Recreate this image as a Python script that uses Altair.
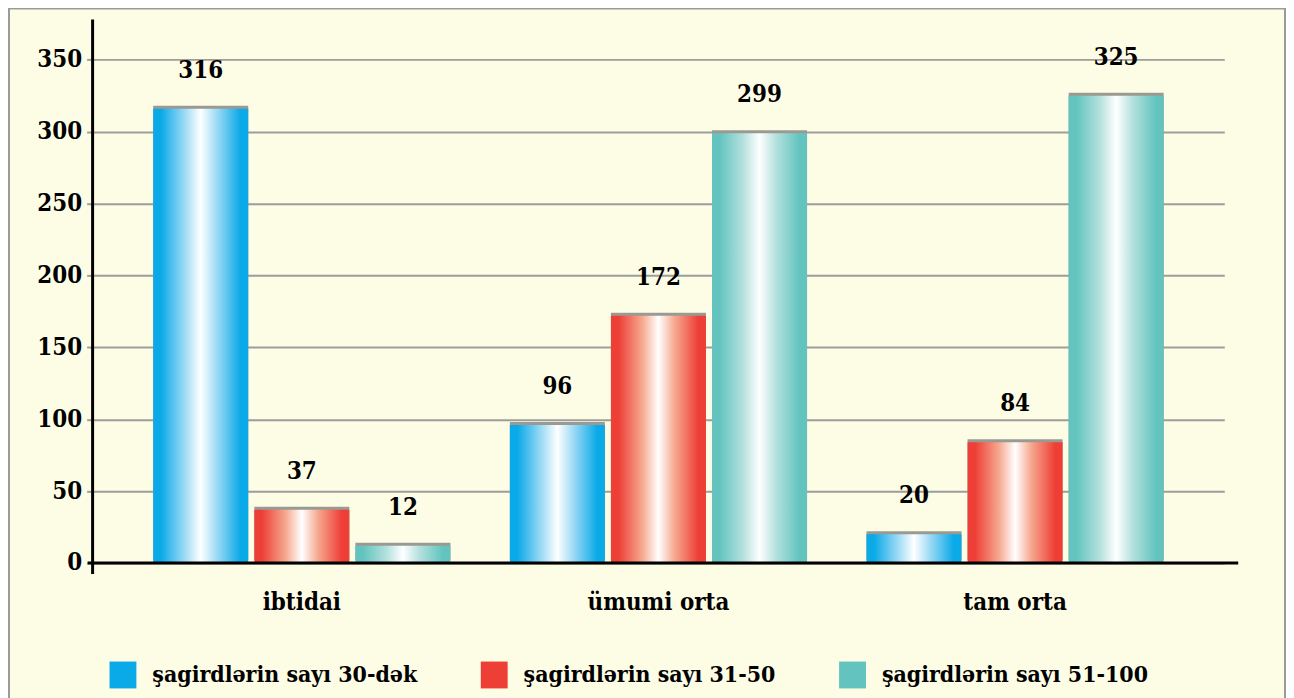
import altair as alt
import pandas as pd

categories = ["ibtidai", "ümumi orta", "tam orta"]
series = ["şagirdlərin sayı 30-dək", "şagirdlərin sayı 31-50", "şagirdlərin sayı 51-100"]
values_upto_30 = [316, 96, 20]
values_31_50 = [37, 172, 84]
values_51_100 = [12, 299, 325]
y_ticks = [0, 50, 100, 150, 200, 250, 300, 350]

colors = ["#0AA9E8", "#EE3F37", "#63C4BF"]
mid_colors = ["#9CDAF5", "#F6A88F", "#B5E1DE"]

rows = []
for s, vals in zip(series, [values_upto_30, values_31_50, values_51_100]):
    for c, v in zip(categories, vals):
        rows.append({"cat": c, "series": s, "value": v})
df = pd.DataFrame(rows)

FONT = "DejaVu Serif Condensed"
W, H = 1137, 546

x_enc = alt.X("cat:N", sort=categories,
              scale=alt.Scale(paddingInner=1/6, paddingOuter=0.17),
              axis=alt.Axis(title=None, domain=False, ticks=False, labelAngle=0,
                            labelFont=FONT, labelFontSize=24, labelFontWeight="bold",
                            labelColor="black", labelPadding=28))
xo_enc = alt.XOffset("series:N", sort=series,
                     scale=alt.Scale(domain=series, paddingInner=0.06, paddingOuter=0))
y_enc = alt.Y("value:Q", scale=alt.Scale(domain=[0, 378], nice=False),
              axis=alt.Axis(title=None, values=y_ticks, domain=False, grid=True,
                            gridColor="#9d9d9d", gridWidth=2, tickColor="#9d9d9d",
                            tickSize=6, tickWidth=2, labelFont=FONT, labelFontSize=24,
                            labelFontWeight="bold", labelColor="black", labelPadding=5))

base = alt.Chart(df)

def grad(edge, mid):
    return alt.Gradient(
        gradient="linear", x1=0, x2=1, y1=0, y2=0,
        stops=[alt.GradientStop(color=edge, offset=0),
               alt.GradientStop(color=edge, offset=0.08),
               alt.GradientStop(color=mid, offset=0.33),
               alt.GradientStop(color="#FFFFFF", offset=0.5),
               alt.GradientStop(color=mid, offset=0.67),
               alt.GradientStop(color=edge, offset=0.92),
               alt.GradientStop(color=edge, offset=1)])

shadow = base.mark_bar(color="#9a9a92", yOffset=-3).encode(
    x=x_enc, xOffset=xo_enc, y=y_enc)

bar_layers = []
for s, edge, mid in zip(series, colors, mid_colors):
    bar_layers.append(
        base.transform_filter(alt.datum.series == s)
        .mark_bar(color=grad(edge, mid))
        .encode(x=x_enc, xOffset=xo_enc, y=y_enc)
    )

legend_layer = base.mark_square(opacity=0).encode(
    x=x_enc, xOffset=xo_enc, y=y_enc,
    color=alt.Color("series:N", scale=alt.Scale(domain=series, range=colors),
                    legend=alt.Legend(title=None, orient="none", legendX=17, legendY=645,
                                      direction="horizontal", columns=3,
                                      symbolType="square", symbolSize=729,
                                      symbolOpacity=1, symbolStrokeWidth=0,
                                      labelFont=FONT, labelFontSize=23,
                                      labelFontWeight="bold", labelColor="black",
                                      labelOffset=16, columnPadding=63,
                                      labelLimit=500, padding=0))
)

labels = base.mark_text(font=FONT, fontSize=24, fontWeight="bold", color="black",
                        baseline="middle", dy=-38).encode(
    x=x_enc, xOffset=xo_enc, y=y_enc, text="value:Q")

y_axis_line = alt.Chart(pd.DataFrame({"a": [0]})).mark_rule(color="black", strokeWidth=3).encode(
    x=alt.value(0), y=alt.value(0), y2=alt.value(557))
x_axis_line = alt.Chart(pd.DataFrame({"a": [0]})).mark_rule(color="black", strokeWidth=3).encode(
    x=alt.value(-5), x2=alt.value(1151), y=alt.value(H))
border = alt.Chart(pd.DataFrame({"a": [0]})).mark_rect(
    fillOpacity=0, stroke="#9a9a9a", strokeWidth=2).encode(
    x=alt.value(-84), x2=alt.value(1198), y=alt.value(-11), y2=alt.value(700))

chart = alt.layer(border, shadow, *bar_layers, legend_layer, labels, y_axis_line, x_axis_line).properties(
    width=W, height=H, background="#FDFDE6",
    autosize=alt.AutoSizeParams(type="none"),
    padding={"left": 85, "top": 10, "right": 62, "bottom": 134},
).configure_view(stroke=None)

chart.save("out.html", embed_options={"renderer": "svg", "actions": False})
